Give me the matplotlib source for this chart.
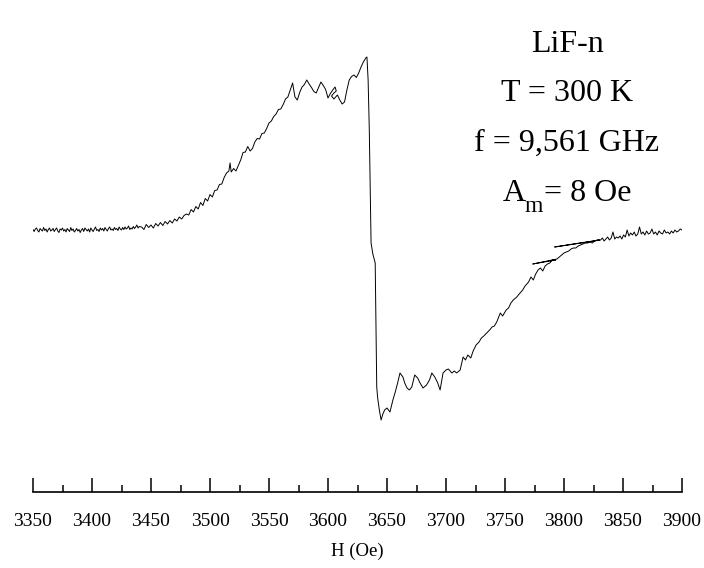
import matplotlib
matplotlib.use("Agg")
import matplotlib.pyplot as plt
from matplotlib.ticker import MultipleLocator
import numpy as np

plt.rcParams['font.family'] = ['Liberation Serif', 'DejaVu Serif']

# ---- data: magnetic field H (Oe) and EPR derivative signal (a.u.) ----
H_base = list(range(3350, 3441))
S_base = [0.5, -1.5, 1.0, 2.0, -0.5, -2.0, 1.5, 0.0, -1.0, 2.5,
          -0.5, 1.0, -2.0, 0.5, 2.0, -1.0, 0.0, 1.5, -1.5, 0.5,
          2.0, -1.0, -2.5, 1.0, 0.0, 2.0, -1.0, 0.5, -2.0, 1.5,
          0.0, -1.5, 2.5, -0.5, 1.0, -2.0, -0.5, 1.5, -1.0, 0.5,
          -2.5, 0.0, 1.5, -1.5, 2.0, 0.5, -1.0, 1.0, -2.0, 2.0,
          0.0, -1.5, 1.0, 3.0, -0.5, 0.5, -1.5, 2.0, 0.0, 1.5,
          -1.0, 2.5, 0.5, -1.0, 1.5, 3.0, 0.0, 1.0, -0.5, 2.5,
          0.5, 1.5, -0.5, 3.0, 1.0, 0.0, 2.5, 0.5, 3.0, 1.0,
          2.0, 4.0, 0.5, 2.0, 1.0, 3.5, 1.5, 3.0, 5.0, 2.0,
          3.5]

H_rise = [3442, 3444, 3446, 3448, 3450, 3452, 3454, 3456, 3458, 3460,
          3462, 3464, 3466, 3468, 3470, 3472, 3474, 3476, 3478, 3480,
          3482, 3484, 3486, 3488, 3490, 3492, 3494, 3496, 3498, 3500,
          3502, 3504, 3506, 3508, 3510, 3512, 3514, 3516, 3517, 3518,
          3520, 3522, 3524, 3526, 3528, 3530, 3532, 3534, 3536, 3538,
          3540, 3542, 3544, 3546, 3548, 3550, 3552, 3554, 3556, 3558,
          3560, 3562, 3564, 3566, 3568, 3570, 3572, 3574, 3576, 3578,
          3580, 3582, 3584, 3586, 3588, 3590, 3592, 3594, 3596, 3598,
          3600, 3602, 3604, 3606, 3607, 3605, 3603, 3605, 3608, 3610,
          3612, 3614, 3616, 3618, 3620, 3622, 3624, 3626, 3628, 3630,
          3632, 3633]
S_rise = [3.0, 0.5, 5.5, 2.5, 5.0, 2.0, 6.5, 4.0, 7.5, 4.5,
          8.5, 6.0, 9.5, 7.0, 11.0, 9.0, 13.0, 11.0, 14.5, 16.0,
          15.0, 20.5, 18.0, 23.5, 21.0, 27.5, 24.5, 31.5, 29.0, 35.5,
          33.0, 39.5, 40.0, 45.5, 46.0, 52.5, 57.0, 59.0, 67.0, 58.0,
          61.5, 59.0, 64.5, 70.0, 77.5, 78.0, 83.5, 79.0, 81.5, 88.0,
          91.5, 91.0, 96.5, 97.0, 101.5, 107.0, 109.0, 113.5, 116.0, 120.5,
          121.0, 125.5, 131.0, 133.0, 140.0, 147.0, 133.0, 130.0, 137.5, 143.0,
          145.5, 150.0, 146.0, 142.5, 138.5, 137.0, 142.5, 148.0, 144.5, 140.5,
          132.0, 136.5, 140.0, 143.0, 139.0, 137.0, 134.0, 131.0, 135.0, 130.0,
          126.0, 128.0, 140.0, 150.0, 153.5, 155.0, 152.5, 157.0, 163.0, 168.0,
          172.0, 173.0]

H_drop = [3634, 3635, 3636.5, 3638, 3640, 3641.3, 3642, 3643.5, 3645]
S_drop = [150, 100, -13, -24, -33, -157, -167, -180, -190]

H_trough = [3646.5, 3648, 3650, 3652.5, 3655, 3657, 3659, 3661, 3663.5, 3665,
            3667, 3669, 3671, 3673.5, 3676, 3678, 3680.5, 3683.5, 3686, 3688,
            3690.5, 3693, 3695, 3697.5, 3700, 3702, 3705, 3707, 3709, 3712,
            3714.5, 3716.5, 3718.5, 3721, 3723, 3725.5, 3728, 3730, 3732, 3734.5,
            3737, 3739, 3741, 3743, 3746, 3748, 3751, 3753, 3755, 3757,
            3760, 3762, 3765, 3767, 3770, 3772, 3774]
S_trough = [-184, -180, -178, -182, -170, -162, -153, -143, -147, -153,
            -158, -160, -157, -145, -148, -153, -158, -155, -150, -143,
            -147, -153, -160, -143, -140, -139, -143, -141, -143, -140,
            -127, -130, -125, -128, -121, -115, -112, -108, -106, -103,
            -100, -97, -96, -92, -83, -86, -80, -78, -73, -70,
            -67, -64, -60, -56, -52, -47, -50]

H_mid = [3776, 3778, 3780, 3782, 3784, 3786, 3788, 3790, 3793, 3773.5,
         3794, 3796, 3798, 3800, 3802, 3804, 3806, 3808, 3810, 3812,
         3814, 3816, 3818, 3820, 3822, 3824, 3826, 3828, 3830, 3792]
S_mid = [-44, -40, -38, -41, -36, -34, -33, -30, -30, -34,
         -29, -27, -25, -23, -22, -21, -19, -18, -18, -16,
         -15, -14, -13, -13, -12, -13, -11, -10, -10, -17]

H_tail = [3831, 3832.5, 3834, 3835.5, 3837, 3838.5, 3840, 3841.5, 3843, 3844.5,
          3846, 3847.5, 3849, 3850.5, 3852, 3853.5, 3855, 3856.5, 3858, 3859.5,
          3861, 3862.5, 3864, 3865.5, 3867, 3868.5, 3870, 3871.5, 3873, 3874.5,
          3876, 3877.5, 3879, 3880.5, 3882, 3883.5, 3885, 3886.5, 3888, 3889.5,
          3891, 3892.5, 3894, 3895.5, 3897, 3898.5, 3900]
S_tail = [-10, -8, -11, -9, -7, -10, -8, -2, -9, -7,
          -8, -6, -9, -5, -7, 0, -6, -3, -5, -2,
          -6, -4, 3, -4, -2, -5, -1, -4, -3, 1,
          -4, -2, -5, -1, -3, -4, 0, -3, -2, -4,
          -1, -3, 0, -2, -1, 1, 0]

H = np.array(H_base + H_rise + H_drop + H_trough + H_mid + H_tail, dtype=float)
S = np.array(S_base + S_rise + S_drop + S_trough + S_mid + S_tail, dtype=float)

xticks = list(range(3350, 3901, 50))
xlabel = 'H (Oe)'
info_lines = ['LiF-n', 'T = 300 K', 'f = 9,561 GHz']
am_parts = ['A', 'm', '= 8 Oe']

# ---- figure ----
W, Hpx = 704, 568
fig = plt.figure(figsize=(W / 100, Hpx / 100), dpi=100)
ax = fig.add_axes([33 / W, (Hpx - 492) / Hpx, (682 - 33) / W, (492 - 40) / Hpx])
ax.plot(H, S, color='black', lw=0.7)
ax.set_xlim(3350, 3900)
ax.set_ylim(-262, 190)

for sp in ('top', 'left', 'right'):
    ax.spines[sp].set_visible(False)
ax.spines['bottom'].set_linewidth(1.2)

ax.set_xticks(xticks)
ax.xaxis.set_minor_locator(MultipleLocator(25))
ax.set_yticks([])
ax.tick_params(axis='x', which='major', direction='in', length=10, width=1.1,
               pad=15, labelsize=14)
ax.tick_params(axis='x', which='minor', direction='in', length=5, width=1.1)
ax.set_xlabel(xlabel, fontsize=13.5, labelpad=9)

FS = 23
cx = 567
baselines = [52, 101, 151]
for txt, yb in zip(info_lines, baselines):
    fig.text(cx / W, 1 - yb / Hpx, txt, ha='center', va='baseline', fontsize=FS)

# "A_m = 8 Oe" line with a low, fairly large subscript
yb = 201
sizes = [FS, 17, FS]
drops = [0, 11, 0]
r = fig.canvas.get_renderer()
tmp = [fig.text(0, 0, p, fontsize=s) for p, s in zip(am_parts, sizes)]
widths = [t.get_window_extent(renderer=r).width for t in tmp]
for t in tmp:
    t.remove()
gap = [0, -1, 1]
total = sum(widths) + sum(gap)
x = cx - total / 2
for p, s, d, w, g in zip(am_parts, sizes, drops, widths, gap):
    x += g
    fig.text(x / W, 1 - (yb + d) / Hpx, p, ha='left', va='baseline', fontsize=s)
    x += w

fig.savefig('out.png', dpi=100)
